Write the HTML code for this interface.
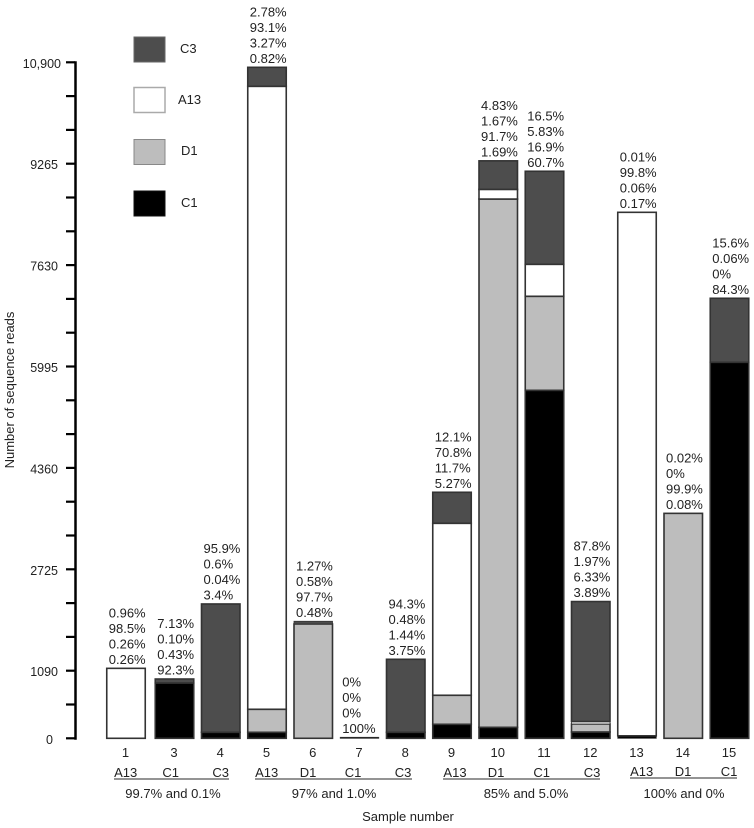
<!DOCTYPE html>
<html lang="en">
<head>
<meta charset="utf-8">
<title>Number of sequence reads per sample</title>
<style>
html,body{margin:0;padding:0;background:#fff;width:754px;height:828px;overflow:hidden}
svg{display:block}
text{font-family:"Liberation Sans",sans-serif;font-size:13px;fill:#222}
</style>
</head>
<body>
<svg id="chart" xmlns="http://www.w3.org/2000/svg" width="754" height="828" viewBox="0 0 754 828">
  <rect x="0" y="0" width="754" height="828" fill="#fff"/>
  <g id="y-axis"></g>
  <g id="bars"></g>
  <text transform="translate(14,390) rotate(-90)" text-anchor="middle" style="font-size:13px">Number of sequence reads</text>
  <g>
    <rect x="134" y="37" width="31" height="25" fill="#4d4d4d" stroke="#666" stroke-width="1"/>
    <text x="180" y="53">C3</text>
    <rect x="134" y="87.5" width="31" height="25" fill="#fff" stroke="#aaa" stroke-width="1.5"/>
    <text x="178" y="104">A13</text>
    <rect x="134" y="139.5" width="31" height="25" fill="#bdbdbd" stroke="#888" stroke-width="1"/>
    <text x="181" y="155">D1</text>
    <rect x="134" y="191" width="31" height="25" fill="#000" stroke="#111" stroke-width="1"/>
    <text x="181" y="207">C1</text>
  </g>
  <g text-anchor="middle">
    <text x="125.700" y="777">A13</text>
    <text x="170.700" y="777">C1</text>
    <text x="220.700" y="777">C3</text>
    <text x="266.700" y="777">A13</text>
    <text x="308" y="777">D1</text>
    <text x="353" y="777">C1</text>
    <text x="403" y="777">C3</text>
    <text x="455" y="777">A13</text>
    <text x="496" y="777">D1</text>
    <text x="541.700" y="777">C1</text>
    <text x="592" y="777">C3</text>
    <text x="641.700" y="776">A13</text>
    <text x="683" y="776">D1</text>
    <text x="729" y="776">C1</text>
    <line x1="114" x2="229" y1="779" y2="779" stroke="#555" stroke-width="1.2"/>
    <line x1="255" x2="412" y1="779" y2="779" stroke="#555" stroke-width="1.2"/>
    <line x1="443" x2="600" y1="779" y2="779" stroke="#555" stroke-width="1.2"/>
    <line x1="630" x2="737" y1="778" y2="778" stroke="#555" stroke-width="1.2"/>
    <text x="173" y="798">99.7% and 0.1%</text>
    <text x="334" y="798">97% and 1.0%</text>
    <text x="526" y="798">85% and 5.0%</text>
    <text x="684" y="798">100% and 0%</text>
  </g>
  <text x="408" y="821" text-anchor="middle">Sample number</text>
</svg>
<script>
var sampleIds = ["1","3","4","5","6","7","8","9","10","11","12","13","14","15"];
var readsC1 = [0,892,97,97,0,16,97,226,177,5611,102,40,0,6063];
var readsD1 = [0,0,0,371,1843,0,0,468,8518,1516,129,0,3627,0];
var readsA13 = [1128,0,0,10045,0,0,0,2773,156,516,39,8441,0,0];
var readsC3 = [0,64,2069,306,44,0,1177,500,460,1500,1935,0,0,1032];
var printedC3 = ["0.96%","7.13%","95.9%","2.78%","1.27%","0%","94.3%","12.1%","4.83%","16.5%","87.8%","0.01%","0.02%","15.6%"];
var printedA13 = ["98.5%","0.10%","0.6%","93.1%","0.58%","0%","0.48%","70.8%","1.67%","5.83%","1.97%","99.8%","0%","0.06%"];
var printedD1 = ["0.26%","0.43%","0.04%","3.27%","97.7%","0%","1.44%","11.7%","91.7%","16.9%","6.33%","0.06%","99.9%","0%"];
var printedC1 = ["0.26%","92.3%","3.4%","0.82%","0.48%","100%","3.75%","5.27%","1.69%","60.7%","3.89%","0.17%","0.08%","84.3%"];
var axisTicks = [0,545,1090,1635,2180,2725,3270,3815,4360,4905,5450,5995,6540,7085,7630,8175,8720,9265,9810,10355,10900];
var axisLabels = ["0","1090","2725","4360","5995","7630","9265","10,900"];
var axisLabelValues = [0,1090,2725,4360,5995,7630,9265,10900];

var NS = "http://www.w3.org/2000/svg";
function yScale(v){ return 738.3 - v * (738.3 - 62.3) / 10900; }
function xCenter(i){ return i === 0 ? 126 : 174.5 + (i - 1) * 46.25; }
function make(tag, attrs, parent){
  var el = document.createElementNS(NS, tag);
  for (var k in attrs) el.setAttribute(k, attrs[k]);
  parent.appendChild(el);
  return el;
}

var axisGroup = document.getElementById("y-axis");
var axisLine = make("line", {x1:75.5, x2:75.5, y1:yScale(10900)-1, y2:yScale(0)+1.500, stroke:"#000", "stroke-width":2.500}, axisGroup);


axisTicks.forEach(function(t){
  var tick = make("line", {x1:66, x2:75, y1:yScale(t), y2:yScale(t), stroke:"#000", "stroke-width":2.200}, axisGroup);
  
  
});
axisLabels.forEach(function(label, i){
  var v = axisLabelValues[i];
  var right = v === 0 ? 53 : (v === 10900 ? 61 : 58);
  var tl = make("text", {x:right, y:yScale(v)+5.500, "text-anchor":"end"}, axisGroup);
  
  
  tl.style.fontSize = "12.5px";
  tl.textContent = label;
});

var seriesOrder = [
  {key:"c1", values:readsC1, fill:"#000000"},
  {key:"d1", values:readsD1, fill:"#bdbdbd"},
  {key:"a13", values:readsA13, fill:"#ffffff"},
  {key:"c3", values:readsC3, fill:"#4d4d4d"}
];
var barsGroup = document.getElementById("bars");
var BAR_W = 38.500;
sampleIds.forEach(function(id, i){
  var cx = xCenter(i), left = cx - BAR_W / 2;
  var g = make("g", {}, barsGroup);
  
  
  var cum = 0;
  seriesOrder.forEach(function(s){
    var part = s.values[i];
    if (part <= 0) return;
    var y1 = yScale(cum), y2 = yScale(cum + part);
    var seg = make("rect", {x:left, y:y2, width:BAR_W, height:y1 - y2, fill:s.fill, stroke:"#333", "stroke-width": (y1 - y2) < 3 ? 0.800 : 1.600}, g);
    
    
    cum += part;
  });
  var top = yScale(cum);
  var lines = [printedC3[i], printedA13[i], printedD1[i], printedC1[i]];
  var labelGroup = make("g", {}, g);
  
  
  lines.forEach(function(text, j){
    var t = make("text", {x:left + 2, y:top - 4.500 - (3 - j) * 15.500}, labelGroup);
    
    
    t.textContent = text;
  });
  var num = make("text", {x:cx - 0.500, y:757, "text-anchor":"middle"}, g);
  
  
  num.textContent = id;
});
</script>
</body>
</html>
